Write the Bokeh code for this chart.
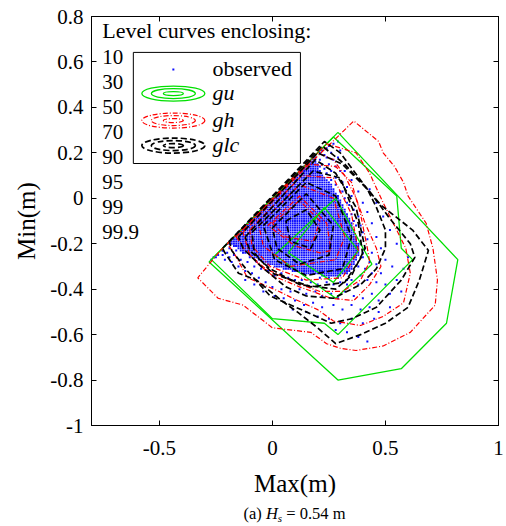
import numpy as np
from bokeh.plotting import figure
from bokeh.layouts import column
from bokeh.models import (Range1d, FixedTicker, NumeralTickFormatter, LinearAxis, Div,
                          CustomJSTickFormatter)
from bokeh.core.properties import value
from bokeh.embed import file_html
from bokeh.resources import INLINE

# ---------------- data ----------------
x_ticks = [-0.5, 0, 0.5, 1]
y_ticks = [-1, -0.8, -0.6, -0.4, -0.2, 0, 0.2, 0.4, 0.6, 0.8]
levels = ["10", "30", "50", "70", "90", "95", "99", "99.9"]

# gu level curves (green)
gu_x = [
    [0.23, 0.38, 0.27, 0.07],
    [0.28, 0.44, 0.28, 0.01],
    [0.27, 0.55, 0.57, 0.62, 0.29, 0.23, 0.00, -0.27],
    [0.29, 0.82, 0.77, 0.57, 0.29, -0.28],
]
gu_y = [
    [-0.04, -0.23, -0.37, -0.24],
    [0.00, -0.29, -0.44, -0.25],
    [0.27, 0.01, -0.22, -0.27, -0.60, -0.55, -0.53, -0.27],
    [0.29, -0.27, -0.55, -0.75, -0.80, -0.28],
]

# gh level curves (red)
gh_x = [
    [0.00, 0.12, 0.21, 0.18, 0.06],
    [-0.02, 0.12, 0.24, 0.26, 0.21, 0.10],
    [-0.06, 0.12, 0.27, 0.32, 0.28, 0.08, -0.04],
    [-0.10, 0.13, 0.27, 0.35, 0.38, 0.31, 0.15, -0.01, -0.09],
    [-0.13, 0.16, 0.28, 0.35, 0.39, 0.42, 0.43, 0.39, 0.31, 0.21, 0.10, -0.03, -0.10],
    [-0.16, 0.20, 0.27, 0.32, 0.37, 0.41, 0.46, 0.48, 0.43, 0.36, 0.26, 0.12, 0.00, -0.05, -0.12],
    [-0.20, 0.24, 0.37, 0.43, 0.49, 0.54, 0.59, 0.61, 0.58, 0.49, 0.39, 0.27, 0.20, 0.09, 0.03,
     -0.11, -0.17],
    [-0.23, 0.36, 0.47, 0.49, 0.54, 0.58, 0.60, 0.68, 0.71, 0.73, 0.72, 0.61, 0.49, 0.37, 0.30,
     0.24, 0.17, 0.00, -0.13, -0.24, -0.33],
]
gh_y = [
    [-0.11, -0.01, -0.10, -0.19, -0.17],
    [-0.12, 0.01, -0.11, -0.23, -0.24, -0.21],
    [-0.12, 0.06, 0.00, -0.17, -0.27, -0.30, -0.21],
    [-0.14, 0.10, 0.09, -0.07, -0.23, -0.35, -0.36, -0.30, -0.21],
    [-0.15, 0.15, 0.14, 0.07, -0.07, -0.22, -0.28, -0.36, -0.41, -0.41, -0.37, -0.31, -0.25],
    [-0.17, 0.20, 0.17, 0.10, 0.00, -0.11, -0.22, -0.30, -0.38, -0.45, -0.44, -0.39, -0.34, -0.30,
     -0.23],
    [-0.20, 0.24, 0.20, 0.11, -0.02, -0.12, -0.22, -0.33, -0.46, -0.52, -0.56, -0.54, -0.49, -0.44,
     -0.41, -0.35, -0.24],
    [-0.23, 0.34, 0.25, 0.20, 0.14, 0.07, 0.01, -0.11, -0.22, -0.36, -0.47, -0.59, -0.65, -0.67,
     -0.66, -0.64, -0.59, -0.57, -0.47, -0.44, -0.35],
]

# glc level curves (black dashed)
glc_x = [
    [0.06, 0.15, 0.21, 0.17, 0.08],
    [0.00, 0.15, 0.27, 0.25, 0.12, 0.02],
    [-0.04, 0.15, 0.28, 0.35, 0.31, 0.15, 0.01],
    [-0.09, 0.18, 0.30, 0.38, 0.40, 0.32, 0.17, 0.00, -0.08],
    [-0.12, 0.19, 0.28, 0.37, 0.41, 0.35, 0.28, 0.12, -0.01, -0.10],
    [-0.15, 0.20, 0.31, 0.42, 0.46, 0.50, 0.50, 0.46, 0.39, 0.27, 0.15, 0.06, -0.05, -0.13],
    [-0.19, 0.22, 0.32, 0.43, 0.52, 0.61, 0.63, 0.57, 0.46, 0.35, 0.26, 0.15, -0.01, -0.11, -0.18],
    [-0.22, 0.23, 0.30, 0.42, 0.48, 0.62, 0.69, 0.65, 0.60, 0.50, 0.39, 0.28, 0.20, 0.11, 0.04,
     -0.07, -0.15, -0.21],
]
glc_y = [
    [-0.10, -0.05, -0.14, -0.22, -0.19],
    [-0.13, 0.02, -0.12, -0.25, -0.29, -0.22],
    [-0.12, 0.07, 0.01, -0.17, -0.31, -0.34, -0.27],
    [-0.15, 0.12, 0.09, -0.11, -0.25, -0.37, -0.39, -0.33, -0.24],
    [-0.17, 0.17, 0.11, -0.04, -0.22, -0.34, -0.40, -0.38, -0.31, -0.23],
    [-0.17, 0.20, 0.15, 0.04, -0.04, -0.14, -0.22, -0.31, -0.38, -0.44, -0.43, -0.39, -0.30, -0.22],
    [-0.19, 0.23, 0.15, 0.03, -0.09, -0.20, -0.26, -0.36, -0.48, -0.53, -0.55, -0.50, -0.43, -0.32,
     -0.23],
    [-0.22, 0.25, 0.20, 0.04, -0.03, -0.14, -0.23, -0.36, -0.48, -0.55, -0.60, -0.64, -0.57, -0.50,
     -0.45, -0.36, -0.33, -0.24],
]

# observed: densely filled rows of the 0.01 m grid (row Min value, first and last Max value)
obs_row_min = [0.17, 0.16, 0.15, 0.14, 0.13, 0.12, 0.11, 0.10, 0.09, 0.08, 0.07, 0.06, 0.05, 0.04,
               0.03, 0.02, 0.01, 0.00, -0.01, -0.02, -0.03, -0.04, -0.05, -0.06, -0.07, -0.08,
               -0.09, -0.10, -0.11, -0.12, -0.13, -0.14, -0.15, -0.16, -0.17, -0.18, -0.19, -0.20,
               -0.21, -0.22, -0.23, -0.24, -0.25, -0.26, -0.27, -0.28, -0.29, -0.30, -0.31, -0.32,
               -0.33, -0.34]
obs_row_max_from = [0.17, 0.16, 0.15, 0.14, 0.13, 0.12, 0.11, 0.10, 0.09, 0.08, 0.07, 0.06, 0.05,
                    0.04, 0.03, 0.02, 0.01, 0.00, -0.01, -0.02, -0.03, -0.04, -0.05, -0.06, -0.07,
                    -0.08, -0.09, -0.10, -0.11, -0.12, -0.13, -0.14, -0.15, -0.16, -0.17, -0.18,
                    -0.19, -0.19, -0.17, -0.15, -0.14, -0.12, -0.10, -0.08, -0.06, -0.04, -0.02,
                    0.01, 0.05, 0.09, 0.14, 0.22]
obs_row_max_to = [0.19, 0.19, 0.20, 0.20, 0.20, 0.21, 0.21, 0.22, 0.23, 0.24, 0.25, 0.26, 0.26,
                  0.27, 0.27, 0.28, 0.29, 0.29, 0.30, 0.30, 0.31, 0.31, 0.32, 0.32, 0.33, 0.33,
                  0.34, 0.34, 0.35, 0.35, 0.35, 0.36, 0.36, 0.36, 0.37, 0.37, 0.37, 0.38, 0.38,
                  0.38, 0.38, 0.38, 0.38, 0.37, 0.37, 0.36, 0.36, 0.35, 0.35, 0.34, 0.33, 0.30]

# observed: scattered points (Max, Min)
obs_sparse = [
    (0.19, 0.18), (0.21, 0.20), (0.22, 0.21), (0.24, 0.22), (0.23, 0.19), (0.25, 0.23), (0.21, 0.17),
    (0.24, 0.18), (0.26, 0.20), (0.27, 0.17), (0.22, 0.15), (0.25, 0.15), (0.28, 0.14), (0.30, 0.12),
    (0.26, 0.12), (0.24, 0.11), (0.28, 0.09), (0.31, 0.07), (0.33, 0.05), (0.30, 0.03), (0.32, 0.00),
    (0.35, 0.01), (0.34, -0.03), (0.36, -0.05), (0.38, -0.08), (0.36, -0.10), (0.39, -0.12),
    (0.40, -0.15), (0.42, -0.18), (0.39, -0.20), (0.41, -0.22), (0.44, -0.24), (0.40, -0.26),
    (0.43, -0.28), (0.46, -0.29), (0.41, -0.31), (0.44, -0.33), (0.48, -0.33), (0.39, -0.34),
    (0.42, -0.36), (0.46, -0.37), (0.50, -0.38), (0.38, -0.38), (0.35, -0.36), (0.33, -0.38),
    (0.30, -0.37), (0.27, -0.38), (0.24, -0.37), (0.20, -0.38), (0.17, -0.37), (0.13, -0.36),
    (0.10, -0.36), (0.07, -0.35), (0.04, -0.33), (0.01, -0.34), (-0.02, -0.32), (-0.05, -0.31),
    (-0.08, -0.30), (-0.11, -0.28), (-0.14, -0.27), (-0.17, -0.25), (-0.20, -0.24), (-0.22, -0.23),
    (-0.24, -0.25), (-0.21, -0.27), (-0.18, -0.28), (-0.15, -0.30), (-0.12, -0.32), (-0.09, -0.33),
    (-0.06, -0.35), (-0.03, -0.37), (0.00, -0.39), (0.04, -0.40), (0.08, -0.41), (0.12, -0.40),
    (0.15, -0.42), (0.19, -0.41), (0.22, -0.43), (0.26, -0.42), (0.29, -0.44), (0.32, -0.41),
    (0.36, -0.43), (0.40, -0.44), (0.44, -0.42), (0.47, -0.45), (0.52, -0.42), (0.55, -0.36),
    (0.53, -0.30), (0.50, -0.27), (0.48, -0.22), (0.46, -0.17), (0.44, -0.11), (0.42, -0.06),
    (0.40, -0.02), (0.38, 0.03), (0.35, 0.08), (0.32, 0.12), (0.29, 0.18),
    (0.10, -0.45), (0.14, -0.47), (0.18, -0.46), (0.22, -0.48), (0.27, -0.47), (0.31, -0.49),
    (0.35, -0.47), (0.39, -0.49), (0.43, -0.48), (0.47, -0.50), (0.05, -0.44), (0.01, -0.43),
    (-0.04, -0.41), (-0.08, -0.38), (-0.12, -0.36), (0.20, -0.52), (0.25, -0.53), (0.30, -0.55),
    (0.35, -0.53), (0.40, -0.55), (0.45, -0.53), (0.33, -0.59), (0.38, -0.61), (0.28, -0.58),
    (0.52, -0.48), (0.57, -0.41), (0.58, -0.31), (0.60, -0.26), (0.55, -0.20), (0.52, -0.14),
    (0.49, -0.08), (0.46, -0.02), (0.43, 0.04), (0.15, -0.50), (0.09, -0.49), (0.42, -0.63),
    (0.33, -0.36), (0.29, -0.35), (0.25, -0.35), (0.21, -0.35), (0.38, -0.30), (0.40, -0.24),
    (0.39, -0.16), (0.37, -0.12), (0.35, -0.07), (0.33, -0.02), (0.31, 0.03), (0.28, 0.06),
    (0.26, 0.08), (0.23, 0.13), (0.21, 0.14),
    (-0.26, -0.26), (-0.25, -0.26), (-0.22, -0.23), (-0.21, -0.21), (-0.19, -0.22), (-0.22, -0.25),
    (-0.19, -0.26), (-0.16, -0.23), (-0.13, -0.24), (-0.10, -0.26), (-0.07, -0.28), (-0.16, -0.21),
    (-0.20, -0.20), (-0.27, -0.27), (0.27, 0.24), (0.30, 0.21), (0.29, 0.25),
]

# ---------------- styling ----------------
FONT = "Liberation Serif"
GREEN = "#00e000"
RED = "#ff0000"
BLUE = "#0f0fff"

p = figure(frame_width=407, frame_height=409,
           x_range=Range1d(-0.8, 1.0), y_range=Range1d(-1.0, 0.8),
           output_backend="svg", toolbar_location=None,
           min_border_left=91, min_border_right=8, min_border_top=16, min_border_bottom=75,
           background_fill_color="white", border_fill_color="white")
p.xgrid.grid_line_color = None
p.ygrid.grid_line_color = None
p.outline_line_color = "black"
p.outline_line_width = 1

xa = p.xaxis[0]
ya = p.yaxis[0]
for ax, ticks, lab in ((xa, x_ticks, "Max(m)"), (ya, y_ticks, "Min(m)")):
    ax.ticker = FixedTicker(ticks=ticks)
    ax.formatter = NumeralTickFormatter(format="0.[0]")
    ax.major_tick_in = 5
    ax.major_tick_out = 0
    ax.minor_tick_line_color = None
    ax.axis_line_color = "black"
    ax.major_tick_line_color = "black"
    ax.major_label_text_font = FONT
    ax.major_label_text_font_size = "21px"
    ax.major_label_text_color = "black"
    ax.axis_label = lab
    ax.axis_label_text_font = FONT
    ax.axis_label_text_font_size = "25px"
    ax.axis_label_text_font_style = "normal"
    ax.axis_label_text_color = "black"
xa.major_label_standoff = 15
xa.axis_label_standoff = 12
ya.major_label_standoff = 8
ya.axis_label_standoff = 7

for loc, ticks in (("above", x_ticks), ("right", y_ticks)):
    ax = LinearAxis(ticker=FixedTicker(ticks=ticks),
                    formatter=CustomJSTickFormatter(code="return ''"),
                    major_tick_in=5, major_tick_out=0, minor_tick_line_color=None,
                    major_label_text_font_size="0px", major_label_standoff=0,
                    axis_line_color="black", major_tick_line_color="black")
    p.add_layout(ax, loc)

# observed points
dx, dy = [], []
for mn, a, b in zip(obs_row_min, obs_row_max_from, obs_row_max_to):
    n = int(round((b - a) / 0.01)) + 1
    dx.extend(np.round(a + 0.01 * np.arange(n), 2).tolist())
    dy.extend([mn] * n)
p.scatter(dx, dy, marker="square", size=1.9, fill_color=BLUE, line_color=None)
p.scatter([t[0] for t in obs_sparse], [t[1] for t in obs_sparse], marker="square", size=2.0,
          fill_color=BLUE, line_color=None)


def closed(xs_list, ys_list):
    return ([xs + [xs[0]] for xs in xs_list], [ys + [ys[0]] for ys in ys_list])


gx, gy = closed(gu_x, gu_y)
p.multi_line(gx, gy, line_color=GREEN, line_width=1.3)
rx, ry = closed(gh_x, gh_y)
p.multi_line(rx, ry, line_color=RED, line_width=1.2, line_dash="5 2 1 2")
kx, ky = closed(glc_x, glc_y)
p.multi_line(kx, ky, line_color="black", line_width=1.7, line_dash="6 3")

# texts inside the axes
p.text(x=[-0.752], y=[0.738], text=["Level curves enclosing:"], text_font=value(FONT),
       text_font_size=value("22px"), text_baseline="middle", text_align="left", text_color="black")
lev_y = [0.620 - 0.110 * i for i in range(len(levels))]
p.text(x=[-0.752] * len(levels), y=lev_y, text=levels, text_font=value(FONT),
       text_font_size=value("21px"), text_baseline="middle", text_align="left", text_color="black")

# legend box
p.quad(left=[-0.615], right=[0.124], bottom=[0.153], top=[0.642], fill_color="white",
       line_color="black", line_width=1)
icon_x = -0.438
lab_x = -0.265
p.scatter([icon_x], [0.567], marker="square", size=2, fill_color=BLUE, line_color=None)
ell_w = [63, 44, 20]
ell_h = [15, 10, 4]
for yy, col, dash, lw in ((0.461, GREEN, "solid", 1.3), (0.342, RED, "5 2 1 2", 1.2),
                          (0.232, "black", "6 3", 1.7)):
    p.ellipse(x=[icon_x] * 3, y=[yy] * 3, width=ell_w, height=ell_h, width_units="screen",
              height_units="screen", fill_color=None, line_color=col, line_width=lw,
              line_dash=dash)
p.text(x=[lab_x], y=[0.571], text=["observed"], text_font=value(FONT),
       text_font_size=value("22px"), text_baseline="middle", text_align="left", text_color="black")
p.text(x=[lab_x] * 3, y=[0.466, 0.347, 0.237], text=["gu", "gh", "glc"], text_font=value(FONT),
       text_font_size=value("22px"), text_font_style="italic", text_baseline="middle",
       text_align="left", text_color="black")

# caption below the chart
caption = Div(text="(a) <i>H</i><i style='font-size:11px;position:relative;top:3px'>s</i>"
                   " = 0.54 m",
              width=407, height=26, margin=(0, 0, 0, 91),
              styles={"font-family": "Liberation Serif", "font-size": "16.5px",
                      "text-align": "center", "line-height": "18px", "padding-top": "5px",
                      "box-sizing": "border-box", "overflow": "hidden", "color": "black"})

layout = column(p, caption, spacing=0)
open("out.html", "w").write(file_html(layout, INLINE))
